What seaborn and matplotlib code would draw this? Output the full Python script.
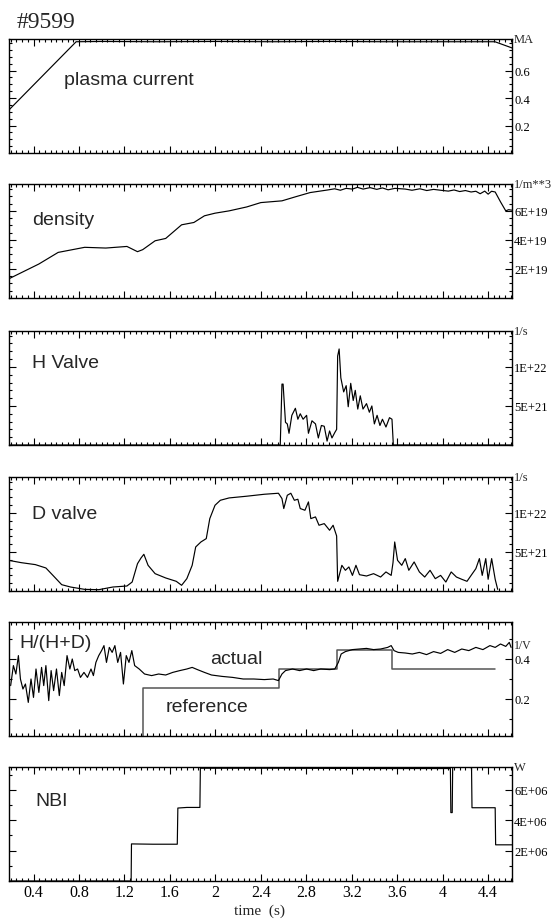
import matplotlib
matplotlib.use("Agg")
import matplotlib.pyplot as plt
from matplotlib.ticker import MultipleLocator, FixedLocator, FuncFormatter
import seaborn as sns

# shot #9599 traces (time in s)
ip_t = [0.18, 0.775, 1.0, 1.5, 2.0, 2.5, 3.0, 3.5, 4.0, 4.46, 4.61]
ip_ma = [0.31, 0.81, 0.812, 0.81, 0.812, 0.81, 0.812, 0.81, 0.81, 0.81, 0.765]

ne_t = [0.18, 0.447, 0.617, 0.85, 1.036, 1.222, 1.315, 1.361, 1.47, 1.563, 1.703,
        1.811, 1.904, 1.997, 2.121, 2.276, 2.40, 2.586, 2.71, 2.834, 2.989, 3.05,
        3.10, 3.15, 3.206, 3.25, 3.30, 3.361, 3.42, 3.47, 3.52, 3.58, 3.671, 3.73,
        3.80, 3.86, 3.92, 3.982, 4.05, 4.10, 4.15, 4.20, 4.25, 4.292, 4.33, 4.37,
        4.40, 4.43, 4.462, 4.509, 4.555, 4.58, 4.608]
ne_e19 = [1.31, 2.34, 3.14, 3.49, 3.44, 3.55, 3.19, 3.33, 3.94, 4.10, 5.04,
          5.2, 5.66, 5.84, 6.0, 6.27, 6.57, 6.69, 6.98, 7.26, 7.44, 7.52,
          7.42, 7.55, 7.5, 7.62, 7.5, 7.6, 7.48, 7.58, 7.45, 7.55, 7.5, 7.42,
          7.52, 7.4, 7.48, 7.42, 7.36, 7.44, 7.33, 7.40, 7.3, 7.35, 7.18, 7.36,
          7.15, 7.35, 7.3, 6.62, 6.0, 6.08, 6.05]

hv_t = [0.18, 2.571, 2.586, 2.596, 2.617, 2.633, 2.648, 2.673, 2.704, 2.726, 2.747,
        2.772, 2.803, 2.819, 2.85, 2.881, 2.906, 2.933, 2.958, 2.983, 3.005, 3.026,
        3.051, 3.067, 3.076, 3.089, 3.104, 3.129, 3.151, 3.169, 3.191, 3.213, 3.231,
        3.253, 3.275, 3.299, 3.33, 3.355, 3.377, 3.399, 3.423, 3.448, 3.47, 3.501,
        3.532, 3.554, 3.566, 4.61]
hv_e21 = [0, 0, 7.8, 7.8, 2.9, 2.7, 1.5, 3.8, 4.7, 3.3, 4.0,
          3.3, 3.8, 1.5, 3.1, 2.7, 0.9, 2.5, 2.4, 0.5, 1.8, 0.9,
          1.6, 2.0, 11.4, 12.3, 8.6, 6.8, 7.6, 4.9, 7.9, 5.7, 7.0,
          4.6, 6.3, 4.6, 5.3, 4.2, 5.0, 2.7, 3.8, 2.5, 3.3, 2.3,
          3.5, 3.3, 0, 0]

dv_t = [0.18, 0.292, 0.416, 0.509, 0.571, 0.648, 0.726, 0.85, 0.974, 1.098, 1.222,
        1.268, 1.315, 1.346, 1.371, 1.408, 1.47, 1.563, 1.656, 1.703, 1.749, 1.796,
        1.827, 1.873, 1.92, 1.951, 1.997, 2.044, 2.121, 2.276, 2.431, 2.555, 2.586,
        2.602, 2.633, 2.664, 2.695, 2.726, 2.747, 2.788, 2.819, 2.84, 2.881, 2.912,
        2.958, 3.005, 3.036, 3.067, 3.076, 3.113, 3.144, 3.175, 3.206, 3.237, 3.268,
        3.33, 3.392, 3.454, 3.501, 3.547, 3.563, 3.578, 3.603, 3.64, 3.671, 3.702,
        3.749, 3.795, 3.842, 3.889, 3.935, 3.982, 4.028, 4.075, 4.121, 4.168, 4.214,
        4.261, 4.292, 4.323, 4.348, 4.379, 4.40, 4.431, 4.462, 4.484]
dv_e21 = [3.93, 3.63, 3.38, 2.95, 2.0, 0.81, 0.51, 0.21, 0.17, 0.51, 0.64,
          1.15, 3.5, 4.23, 4.70, 3.29, 2.22, 1.67, 1.24, 0.73, 1.58, 3.29,
          5.64, 6.28, 6.71, 9.27, 10.98, 11.62, 11.92, 12.14, 12.39, 12.52, 11.84,
          10.56, 12.26, 12.52, 11.62, 11.75, 10.56, 10.34, 11.41, 9.27, 9.49, 8.42,
          8.63, 7.78, 8.42, 7.05, 1.24, 3.29, 2.65, 3.08, 2.0, 3.29, 2.09,
          1.92, 2.22, 1.79, 2.44, 2.0, 3.63, 6.28, 3.93, 3.29, 4.15, 2.65,
          3.72, 2.44, 1.79, 2.65, 1.58, 2.0, 1.15, 2.44, 1.79, 1.5, 1.24,
          2.22, 2.86, 4.15, 2.0, 4.15, 1.5, 4.15, 1.5, 0.21]

ratio_t = [0.199, 0.223, 0.245, 0.267, 0.285, 0.307, 0.329, 0.354, 0.378, 0.400, 0.422,
           0.447, 0.471, 0.490, 0.509, 0.534, 0.555, 0.577, 0.602, 0.627, 0.648, 0.670,
           0.695, 0.720, 0.741, 0.763, 0.788, 0.813, 0.844, 0.875, 0.906, 0.927, 0.949,
           0.974, 0.999, 1.020, 1.042, 1.067, 1.092, 1.116, 1.141, 1.166, 1.191, 1.216,
           1.240, 1.265, 1.290, 1.330, 1.377, 1.439, 1.501, 1.563, 1.625, 1.687, 1.749,
           1.796, 1.842, 1.904, 1.966, 2.059, 2.152, 2.245, 2.338, 2.431, 2.509, 2.555,
           2.586, 2.617, 2.679, 2.741, 2.803, 2.865, 2.927, 3.005, 3.051, 3.082, 3.107,
           3.144, 3.206, 3.268, 3.330, 3.392, 3.454, 3.516, 3.547, 3.572, 3.609, 3.671,
           3.733, 3.795, 3.858, 3.920, 3.982, 4.044, 4.106, 4.168, 4.230, 4.292, 4.354,
           4.416, 4.462, 4.509, 4.555, 4.586, 4.602]
ratio = [0.267, 0.367, 0.325, 0.417, 0.30, 0.25, 0.275, 0.183, 0.30, 0.208, 0.35,
         0.233, 0.358, 0.267, 0.367, 0.192, 0.342, 0.242, 0.35, 0.217, 0.333, 0.267,
         0.417, 0.35, 0.40, 0.342, 0.35, 0.308, 0.333, 0.308, 0.35, 0.317, 0.383,
         0.417, 0.442, 0.467, 0.383, 0.458, 0.433, 0.467, 0.383, 0.433, 0.275, 0.417,
         0.383, 0.442, 0.367, 0.35, 0.325, 0.317, 0.325, 0.32, 0.333, 0.342, 0.35,
         0.358, 0.347, 0.333, 0.32, 0.313, 0.308, 0.30, 0.30, 0.297, 0.30, 0.292,
         0.325, 0.342, 0.35, 0.342, 0.35, 0.342, 0.35, 0.347, 0.35, 0.383, 0.425,
         0.437, 0.447, 0.45, 0.453, 0.447, 0.45, 0.458, 0.467, 0.442, 0.433, 0.43,
         0.425, 0.433, 0.422, 0.437, 0.428, 0.447, 0.433, 0.45, 0.442, 0.458, 0.447,
         0.467, 0.458, 0.475, 0.463, 0.483, 0.458]

ref_t = [0.18, 1.361, 2.561, 3.067, 3.557, 4.462]
ref = [0.0, 0.255, 0.35, 0.447, 0.35, 0.35]

nbi_t = [0.18, 1.259, 1.262, 1.45, 1.665, 1.67, 1.75, 1.864, 1.868, 2.5, 3.5,
         4.068, 4.072, 4.084, 4.088, 4.2, 4.254, 4.258, 4.462, 4.466, 4.61]
nbi_mw = [0, 0, 2.44, 2.42, 2.42, 4.8, 4.84, 4.84, 7.42, 7.42, 7.40,
          7.40, 4.5, 4.5, 7.5, 7.52, 7.45, 4.82, 4.82, 2.38, 2.38]

sns.set_style("white")
plt.rcParams["font.family"] = ["Liberation Sans", "DejaVu Sans"]

fig = plt.figure(figsize=(5.52, 9.2), dpi=100)
W, H = 552, 920
x0, x1 = 8.5, 512
tops = [40, 185, 332, 478, 623, 768]
ph = 114
axes = [fig.add_axes([x0 / W, 1 - (t + ph) / H, (x1 - x0) / W, ph / H]) for t in tops]

sci = FuncFormatter(lambda v, p: f"{v:.0E}")
plain = FuncFormatter(lambda v, p: f"{v:g}")

# (ylim, major ticks, minor step, formatter, unit)
setup = [
    ((0, 0.83), [0.2, 0.4, 0.6], 0.05, plain, "MA"),
    ((0, 7.85e19), [2e19, 4e19, 6e19], 0.5e19, sci, "1/m**3"),
    ((0, 14.6e21), [5e21, 1e22], 1e21, sci, "1/s"),
    ((0, 14.6e21), [5e21, 1e22], 1e21, sci, "1/s"),
    ((0.015, 0.585), [0.2, 0.4], 0.1, plain, None),
    ((0, 7.5e6), [2e6, 4e6, 6e6], 1e6, sci, "W"),
]

for ax, (ylim, maj, mnr, fmt, unit) in zip(axes, setup):
    ax.set_xlim(0.18, 4.61)
    ax.set_ylim(*ylim)
    ax.xaxis.set_major_locator(MultipleLocator(0.4))
    ax.xaxis.set_minor_locator(MultipleLocator(0.05))
    ax.yaxis.set_major_locator(FixedLocator(maj))
    ax.yaxis.set_minor_locator(MultipleLocator(mnr))
    ax.yaxis.set_major_formatter(fmt)
    ax.xaxis.set_major_formatter(plain)
    ax.tick_params(which="both", direction="in", top=True, bottom=True,
                   left=True, right=True, labelleft=False, labelright=True,
                   labelbottom=False, width=0.8, colors="black")
    ax.tick_params(which="major", length=5)
    ax.tick_params(which="minor", length=2.5)
    ax.tick_params(axis="y", labelsize=9, pad=1.5, labelfontfamily="Liberation Serif")
    for s in ax.spines.values():
        s.set_color("black")
        s.set_linewidth(1.0)
    if unit:
        ax.text(1.004, 1.0, unit, transform=ax.transAxes, ha="left", va="center",
                fontsize=9, family="Liberation Serif")

lw = 0.85
sns.lineplot(x=ip_t, y=ip_ma, ax=axes[0], color="black", lw=lw, estimator=None, sort=False)
sns.lineplot(x=ne_t, y=[v * 1e19 for v in ne_e19], ax=axes[1], color="black", lw=lw,
             estimator=None, sort=False)
sns.lineplot(x=hv_t, y=[v * 1e21 for v in hv_e21], ax=axes[2], color="black", lw=lw,
             estimator=None, sort=False)
sns.lineplot(x=dv_t, y=[v * 1e21 for v in dv_e21], ax=axes[3], color="black", lw=lw,
             estimator=None, sort=False)
sns.lineplot(x=ref_t, y=ref, ax=axes[4], color="#555555", lw=1.1, estimator=None,
             sort=False, drawstyle="steps-post")
sns.lineplot(x=ratio_t, y=ratio, ax=axes[4], color="black", lw=lw, estimator=None, sort=False)
sns.lineplot(x=nbi_t, y=[v * 1e6 for v in nbi_mw], ax=axes[5], color="black", lw=lw,
             estimator=None, sort=False)

lbl = dict(fontsize=14, ha="left", va="center")
axes[0].text(0.664, 0.535, "plasma current", **lbl)
axes[1].text(0.385, 5.43e19, "density", **lbl)
axes[2].text(0.385, 10.6e21, "H Valve", **lbl)
axes[3].text(0.385, 9.9e21, "D valve", **lbl)
axes[4].text(0.276, 0.483, "H/(H+D)", **lbl)
axes[4].text(1.95, 0.40, "actual", **lbl)
axes[4].text(1.56, 0.163, "reference", **lbl)
axes[5].text(0.416, 5.27e6, "NBI", **lbl)
axes[4].text(1.004, 0.468, "1/V", transform=axes[4].get_yaxis_transform(), ha="left",
             va="center", fontsize=8.5, family="Liberation Serif")

for ax in axes:
    ax.set_xlabel("")
    ax.set_ylabel("")

axes[5].tick_params(axis="x", labelbottom=True, labelsize=11.5, pad=2,
                    labelfontfamily="Liberation Serif")
fig.text(259 / W, 1 - 911 / H, "time  (s)", fontsize=11, family="Liberation Serif",
         ha="center", va="center")

fig.text(17 / W, 1 - 22 / H, "#9599", fontsize=17, family="Liberation Serif",
         ha="left", va="center")

fig.savefig("out.png", dpi=100, facecolor="white")
